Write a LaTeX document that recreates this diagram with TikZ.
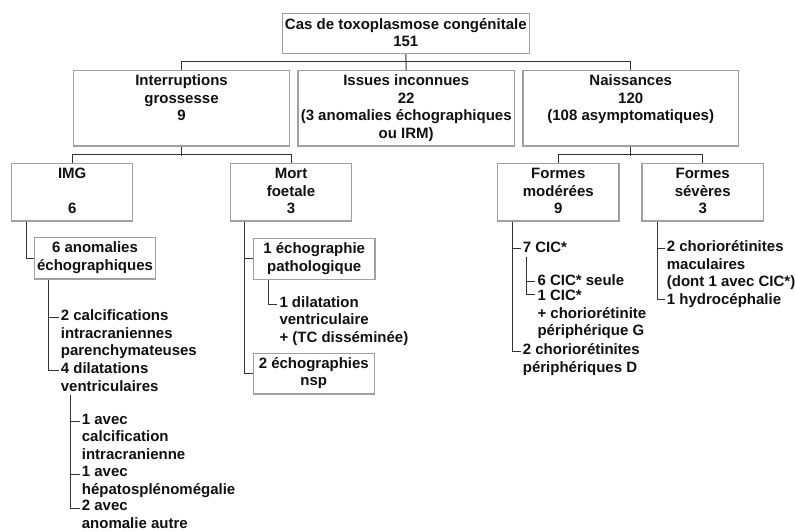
\documentclass[tikz,border=0pt]{standalone}
\usepackage{fontspec}
\setmainfont{Liberation Sans}
\definecolor{boxgray}{HTML}{A0A0A0}
\definecolor{conngray}{HTML}{333333}
\definecolor{txtc}{HTML}{111111}
\newcommand\fstrut{\rule{0pt}{12pt}}
\tikzset{
  box/.style={draw=boxgray, line width=1.2pt, inner sep=0pt},
  btxt/.style={anchor=north, align=center, inner sep=0pt, text=txtc,
    font=\bfseries\fontsize{15}{17.5}\selectfont, execute at begin node=\fstrut},
  item/.style={anchor=north west, align=left, inner xsep=2pt, inner ysep=0pt, text=txtc,
    font=\bfseries\fontsize{15}{17.5}\selectfont, execute at begin node=\fstrut},
  conn/.style={draw=conngray, line width=1pt}
}
\begin{document}
\begin{tikzpicture}[x=1pt,y=-1pt]
\useasboundingbox (0,0) rectangle (795,532);
% level 0
\node[box, minimum width=247pt, minimum height=40pt] (top) at (405.8,33.3) {};
\node[btxt] (ttop) at ([yshift=-5.3pt]top.north) {Cas de toxoplasmose congénitale\\151};
% level 1
\node[box, minimum width=216.4pt, minimum height=75.3pt] (interr) at (181.5,108.3) {};
\node[btxt] (tinterr) at ([yshift=-4.6pt]interr.north) {Interruptions\\grossesse\\9};
\node[box, minimum width=216.3pt, minimum height=75.3pt] (issues) at (406.2,108.3) {};
\node[btxt] (tissues) at ([yshift=-4.6pt]issues.north) {Issues inconnues\\22\\(3 anomalies échographiques\\ou IRM)};
\node[box, minimum width=215.3pt, minimum height=75.3pt] (naiss) at (630.7,108.3) {};
\node[btxt] (tnaiss) at ([yshift=-4.6pt]naiss.north) {Naissances\\120\\(108 asymptomatiques)};
% level 2
\node[box, minimum width=121pt, minimum height=57.7pt] (img) at (72.2,192.2) {};
\node[btxt] (timg) at ([yshift=-5.3pt]img.north) {IMG\\\mbox{}\\6};
\node[box, minimum width=120.6pt, minimum height=57.7pt] (mort) at (291,192.2) {};
\node[btxt] (tmort) at ([yshift=-5.3pt]mort.north) {Mort\\foetale\\3};
\node[box, minimum width=121.3pt, minimum height=57.7pt] (fmod) at (558.3,192.2) {};
\node[btxt] (tfmod) at ([yshift=-5.3pt]fmod.north) {Formes\\modérées\\9};
\node[box, minimum width=121.3pt, minimum height=57.7pt] (fsev) at (702.7,192.2) {};
\node[btxt] (tfsev) at ([yshift=-5.3pt]fsev.north) {Formes\\sévères\\3};
% level 3 boxes
\node[box, minimum width=121.4pt, minimum height=41.3pt] (anom) at (95,258.3) {};
\node[btxt] (tanom) at ([yshift=-4.8pt]anom.north) {6 anomalies\\échographiques};
\node[box, minimum width=121.7pt, minimum height=41pt] (echo1) at (314.2,258.8) {};
\node[btxt] (techo1) at ([yshift=-4.8pt]echo1.north) {1 échographie\\pathologique};
\node[box, minimum width=121pt, minimum height=40.7pt] (echo2) at (313.8,373.7) {};
\node[btxt] (techo2) at ([yshift=-4.3pt]echo2.north) {2 échographies\\nsp};
% items
\node[item] (calc) at (58.7,309.6) {2 calcifications\\intracraniennes\\parenchymateuses};
\node[item] (dil4) at (58.7,362.9) {4 dilatations\\ventriculaires};
\node[item] (avec1) at (79.7,413.6) {1 avec\\calcification\\intracranienne};
\node[item] (avec2) at (79.7,466.3) {1 avec\\hépatosplénomégalie};
\node[item] (avec3) at (79.7,500.3) {2 avec\\anomalie autre};
\node[item] (dil1) at (277.3,296.3) {1 dilatation\\ventriculaire\\+ (TC disséminée)};
\node[item] (cic7) at (520.7,240.3) {7 CIC*};
\node[item] (chor2) at (520.7,343.6) {2 choriorétinites\\périphériques D};
\node[item] (cic6) at (535.3,273.6) {6 CIC* seule};
\node[item] (cic1) at (535.3,290.3) {1 CIC*\\+ choriorétinite\\périphérique G};
\node[item] (chm) at (664.7,240.3) {2 choriorétinites\\maculaires\\(dont 1 avec CIC*)};
\node[item] (hyd) at (664.7,291.9) {1 hydrocéphalie};
% connectors level 0-1
\draw[conn] (top.south) -- (issues.north);
\draw[conn] (interr.north) -- ++(0,-8.4) -| (naiss.north);
% level 1-2
\draw[conn] (interr.south) -- ++(0,9);
\draw[conn] (img.north) -- ++(0,-8.3) -| (mort.north);
\draw[conn] (naiss.south) -- ++(0,9);
\draw[conn] (fmod.north) -- ++(0,-8.3) -| (fsev.north);
% IMG subtree
\draw[conn] ([xshift=15pt]img.south west) |- (anom.west);
\draw[conn] ([xshift=15pt]anom.south west) |- ([yshift=-8pt]calc.north west);
\draw[conn] ([xshift=15pt]anom.south west) |- ([yshift=-8pt]dil4.north west);
\draw[conn] ([xshift=11.3pt,yshift=-3pt]dil4.south west) |- ([yshift=-8pt]avec1.north west);
\draw[conn] ([xshift=11.3pt,yshift=-3pt]dil4.south west) |- ([yshift=-8pt]avec2.north west);
\draw[conn] ([xshift=11.3pt,yshift=-3pt]dil4.south west) |- ([yshift=-8pt]avec3.north west);
% Mort subtree
\draw[conn] ([xshift=14.3pt]mort.south west) |- (echo1.west);
\draw[conn] ([xshift=14.3pt]mort.south west) |- (echo2.west);
\draw[conn] ([xshift=16pt]echo1.south west) |- ([yshift=-8pt]dil1.north west);
% Formes moderees subtree
\draw[conn] ([xshift=15.6pt]fmod.south west) |- ([yshift=-8pt]cic7.north west);
\draw[conn] ([xshift=15.6pt]fmod.south west) |- ([yshift=-8pt]chor2.north west);
\draw[conn] ([xshift=5.3pt,yshift=-4pt]cic7.south west) |- ([yshift=-8pt]cic6.north west);
\draw[conn] ([xshift=5.3pt,yshift=-4pt]cic7.south west) |- ([yshift=-4pt]cic1.north west);
% Formes severes subtree
\draw[conn] ([xshift=15.7pt]fsev.south west) |- ([yshift=-8pt]chm.north west);
\draw[conn] ([xshift=15.7pt]fsev.south west) |- ([yshift=-8pt]hyd.north west);
\end{tikzpicture}
\end{document}
